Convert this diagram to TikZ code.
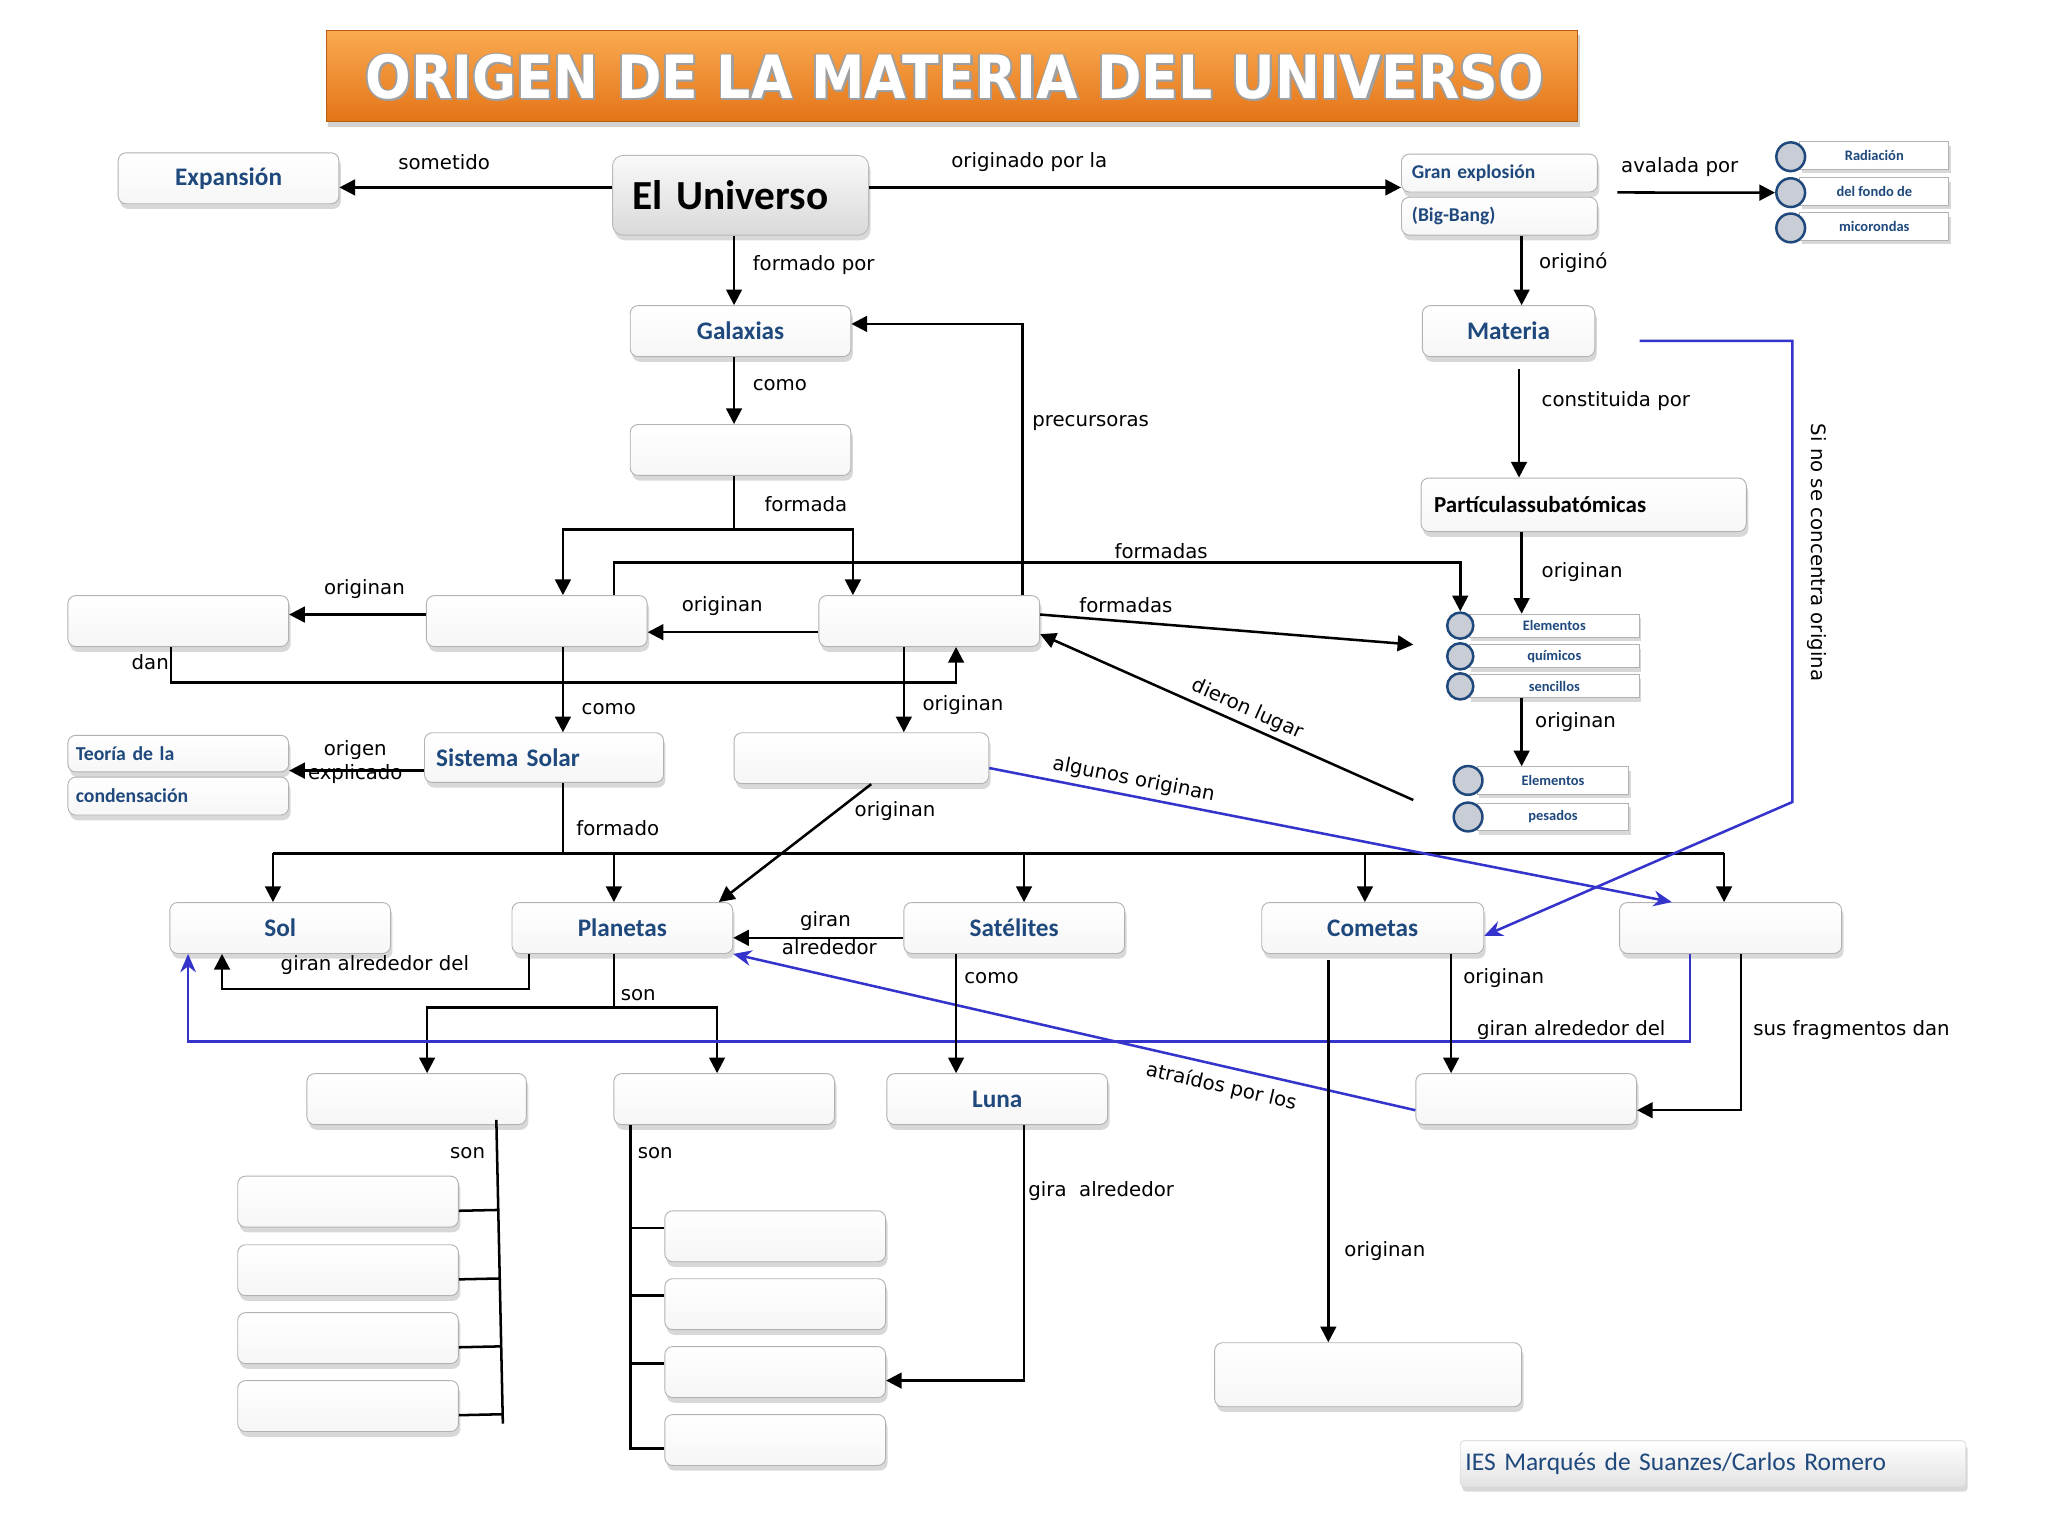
\documentclass[tikz,border=0pt]{standalone}
\usepackage{fontspec}
\usepackage{graphicx}
\setmainfont{DejaVu Sans}
\newfontfamily\calib{Carlito}
\usepackage{tikz}
\usetikzlibrary{positioning,arrows.meta,shadows,calc}
\definecolor{navy}{RGB}{31,73,125}
\definecolor{linkblue}{RGB}{52,52,204}
\definecolor{orgtop}{RGB}{250,170,80}
\definecolor{orgbot}{RGB}{228,116,24}
\definecolor{dotgray}{RGB}{200,205,214}
\newcommand{\ttltext}{\scalebox{0.9}[1]{ORIGEN DE LA MATERIA DEL UNIVERSO}}

\begin{document}
\begin{tikzpicture}[x=0.2mm, y=-0.2mm,
  box/.style={draw=gray!60, rounded corners=1.2mm, top color=white, bottom color=gray!7,
              minimum width=33.8mm, minimum height=7.8mm, inner sep=0pt,
              font=\calib\bfseries\fontsize{11}{13}\selectfont, text=navy,
              drop shadow={opacity=0.3, shadow xshift=0.3mm, shadow yshift=-0.8mm}},
  lbox/.style={box, align=left, inner xsep=1.6mm},
  gbox/.style={lbox, minimum width=30mm, text width=26.8mm, minimum height=5.8mm,
               font=\calib\bfseries\fontsize{8.5}{10}\selectfont},
  tbox/.style={lbox, text width=31.4mm, inner xsep=1.2mm, minimum height=5.8mm,
               font=\calib\bfseries\fontsize{8.6}{10}\selectfont},
  unibox/.style={box, top color=gray!4, bottom color=gray!30, draw=gray!55, rounded corners=1.6mm,
                 minimum width=39.2mm, minimum height=12.2mm, align=left, text width=33.2mm,
                 inner xsep=3mm, text=black, font=\calib\bfseries\fontsize{18}{20}\selectfont},
  item/.style={draw=gray!60, fill=white, inner sep=0pt,
               font=\calib\bfseries\fontsize{6.3}{7}\selectfont, text=navy,
               drop shadow={opacity=0.3, shadow xshift=0.3mm, shadow yshift=-0.6mm}},
  dot/.style={circle, draw=navy, line width=1.1pt, fill=dotgray, minimum size=4.4mm, inner sep=0pt},
  titlebar/.style={draw=orgbot!80!black, top color=orgtop, bottom color=orgbot,
                   minimum width=191.6mm, minimum height=14mm,
                   drop shadow={opacity=0.35, shadow xshift=0.3mm, shadow yshift=-0.8mm}},
  ttl/.style={font=\bfseries\fontsize{26}{28}\selectfont, inner sep=0pt},
  lbl/.style={font=\fontsize{8.6}{10}\selectfont, inner sep=0pt},
  arr/.style={-{Triangle[length=2.4mm,width=2.4mm]}, line width=1.1pt},
  arrb/.style={-{Stealth[length=2.8mm,width=2.4mm]}, line width=1.1pt, linkblue},
  ln/.style={line width=1.1pt},
]
\fill[white, use as bounding box] (0,0) rectangle (1568,1176);

% title bar
\node[titlebar] (ttlbar) at (729,58) {};
\foreach \dx/\dy [count=\k] in {-1.3/0, 1.3/0, 0/-1.3, 0/1.3, 1.6/1.6}
  \node[ttl, text=gray!75] (ttlsh\k) at (731+\dx,59+\dy) {\ttltext};
\node[ttl, text=white] (ttltxt) at (731,59) {\ttltext};

% top row
\node[box] (expan) at (175,136.5) {Expansión};
\node[unibox] (univ) at (567,149.5) {El Universo};
\node[gbox] (gran) at (1148,132.5) {Gran explosión};
\node[gbox] (bigbang) at (1148,165.5) {(Big-Bang)};
\foreach \t/\y [count=\i] in {Radiación/119, del fondo de/146.5, micorondas/173.5}{
  \node[item, minimum width=22.8mm, minimum height=4.2mm] (rad\i) at (1435,\y) {\t};
  \node[dot] (radc\i) at (1371,\y+1) {};
}

% galaxias and materia
\node[box] (galax) at (567,253.5) {Galaxias};
\node[box] (e1) at (567,344.5) {};
\node[box, minimum width=26.4mm] (mater) at (1155,253.5) {Materia};
\node[lbox, minimum width=49.8mm, text width=45.8mm, inner xsep=2mm, minimum height=8.2mm,
      text=black, font=\calib\bfseries\fontsize{10}{12}\selectfont] (partic) at (1212.5,386.5) {Partículassubatómicas};
\foreach \t/\y [count=\i] in {Elementos/479, químicos/502.5, sencillos/525.5}{
  \node[item, minimum width=26mm, minimum height=3.5mm] (el\i) at (1190,\y) {\t};
  \node[dot, minimum size=4mm] (elc\i) at (1118,\y) {};
}
\foreach \t/\y [count=\i] in {Elementos/597.5, pesados/625.5}{
  \node[item, minimum width=23.2mm, minimum height=4.2mm] (ep\i) at (1189,\y) {\t};
  \node[dot] (epc\i) at (1124,\y) {};
}

% middle rows
\node[box] (e2) at (136.5,475.5) {};
\node[box] (e3) at (411,475.5) {};
\node[box] (e4) at (711.5,475.5) {};
\node[tbox, minimum height=5.6mm] (teoria) at (136.5,577) {Teoría de la};
\node[tbox] (conden) at (136.5,609.5) {condensación};
\node[lbox, minimum width=36.6mm, text width=33mm, inner xsep=1.8mm, minimum height=7.6mm] (sist) at (416.5,580) {Sistema Solar};
\node[box, minimum width=39mm] (e5) at (659.5,580.5) {};

% solar system members
\node[box] (sol) at (214.5,710.5) {Sol};
\node[box] (plan) at (476.5,710.5) {Planetas};
\node[box] (sat) at (776.5,710.5) {Satélites};
\node[box, minimum width=34mm] (comet) at (1051,710.5) {Cometas};
\node[box, minimum width=34mm] (e6) at (1325,710.5) {};
\node[box, minimum width=33.6mm] (e7) at (319,841.5) {};
\node[box] (e8) at (554.5,841.5) {};
\node[box] (luna) at (763.5,841.5) {Luna};
\node[box] (e9) at (1168.5,841.5) {};
\foreach \y [count=\i] in {920,972.5,1024.5,1076.5}
  \node[box] (l\i) at (266.5,\y) {};
\foreach \y [count=\i] in {946.5,998.5,1050.5,1102.5}
  \node[box] (m\i) at (593.5,\y) {};
\node[box, minimum width=47mm, minimum height=9.8mm] (ebot) at (1047.5,1052.5) {};

% footer
\node[box, top color=white, bottom color=gray!22, draw=gray!25, rounded corners=0.6mm,
      minimum width=77.4mm, minimum height=7mm, align=left, text width=75.8mm, inner xsep=0.8mm,
      font=\calib\fontsize{11.1}{13}\selectfont] (foot) at (1311.5,1120.5) {IES Marqués de Suanzes/Carlos Romero};

% connectors, top part
\draw[arr] ([yshift=1.2mm]univ.west) -- ([yshift=1.2mm]univ.west -| expan.east);
\draw[arr] ([yshift=1.2mm]univ.east) -- ([yshift=1.2mm]univ.east -| gran.west);
\draw[arr] ([xshift=-1mm]univ.south) -- ([xshift=-1mm]univ.south |- galax.north);
\draw[arr] ([xshift=3mm]gran.south east) -- (radc2.west);
\draw[arr] ([xshift=2mm]mater.north |- bigbang.south) -- ([xshift=2mm]mater.north);
\draw[arr] ([xshift=-1mm]galax.south) -- ([xshift=-1mm]galax.south |- e1.north);
\draw[ln] ([xshift=-1mm]e1.south) -- ++(0,41) coordinate (fj);
\draw[arr] (fj) -| ([xshift=4mm]e3.north);
\draw[arr] (fj) -| ([xshift=-11.7mm]e4.north);
\draw[arr] ([xshift=14.3mm]e4.north) |- ([yshift=1.1mm]galax.east);
\draw[arr] ([xshift=11.8mm]e3.north) -- ++(0,-25) -| (elc1.north);
\draw[arr] ([yshift=1mm]e4.east) -- ([xshift=-5mm,yshift=1.8mm]elc2.west);
\draw[arr] ([xshift=-6mm,yshift=-3mm]epc1.west) -- ([yshift=-2mm]e4.east);
\draw[arr] ([yshift=-1.7mm]e4.west) -- ([yshift=-1.7mm]e4.west -| e3.east);
\draw[arr] ([yshift=1mm]e3.west) -- ([yshift=1mm]e3.west -| e2.east);
\draw[arr] ([xshift=-1.1mm]e2.south) -- ++(0,27) -| ([xshift=4.1mm]e4.south);
\draw[arr] ([xshift=4mm]e3.south) -- ([xshift=4mm]e3.south |- sist.north);
\draw[arr] ([xshift=-3.9mm]e4.south) -- ([xshift=-3.9mm]e4.south |- e5.north);
\draw[arr] ([yshift=-2mm]sist.west) -- ([yshift=-2mm]sist.west -| teoria.east);

% materia side
\draw[arr] ([xshift=1.6mm,yshift=-1.8mm]mater.south) -- ([xshift=1.6mm]mater.south |- partic.north);
\draw[arr] ([xshift=-9.5mm]partic.south) -- ([xshift=-9.5mm]partic.south |- el1.north);
\draw[arr] ([xshift=-5mm]el3.south) -- ([xshift=-5mm]el3.south |- ep1.north);

% sistema solar bus
\draw[ln] ([xshift=2.9mm]sist.south) -- ++(0,54) coordinate (bus);
\draw[ln] ([xshift=-1.1mm]sol.north |- bus) -- ([xshift=-1mm]e6.north |- bus);
\foreach \n/\dx in {sol/-1.1,plan/-1.3,sat/1.5,comet/-1.2,e6/-1}
  \draw[arr] ([xshift=\dx mm]\n.north |- bus) -- ([xshift=\dx mm]\n.north);
\draw[arr] ([xshift=1.5mm]e5.south) -- ([xshift=-2.2mm]plan.north east);
\draw[arrb] ([yshift=-1.5mm]e5.east) -- ([xshift=-9mm]e6.north);
\draw[arrb] ([xshift=6.8mm,yshift=-1.5mm]mater.east) -- ++(117,0) -- ++(0,353) -- ([yshift=-1.2mm]comet.east);

% lower part
\draw[arr] ([yshift=-1.5mm]sat.west) -- ([yshift=-1.5mm]sat.west -| plan.east);
\draw[arr] ([xshift=-14.3mm]plan.south) -- ++(0,27) -| ([xshift=-8.9mm]sol.south);
\draw[ln] ([xshift=-1.3mm]plan.south) -- ++(0,41) coordinate (sj);
\draw[arr] (sj) -| ([xshift=1.6mm]e7.north);
\draw[arr] (sj) -| ([xshift=-1.1mm]e8.north);
\draw[arrb] ([xshift=-6.2mm]e6.south) -- ++(0,67) -| ([xshift=-14.1mm]sol.south);
\draw[arrb] ([yshift=-1.7mm]e9.west) -- (plan.south east);
\draw[arr] ([xshift=-8.9mm]sat.south) -- ([xshift=-8.9mm]sat.south |- luna.north);
\draw[arr] ([xshift=12mm]comet.south) -- ([xshift=12mm]comet.south |- e9.north);
\draw[arr] ([xshift=-6.8mm,yshift=-1mm]comet.south) -- ([xshift=-6.8mm]comet.south |- ebot.north);
\draw[arr] ([xshift=1.6mm]e6.south) |- ([yshift=-1.7mm]e9.east);
\draw[arr] ([xshift=4.1mm]luna.south) |- ([yshift=-1.3mm]m3.east);

% the two "son" columns
\coordinate (lstem0) at ([xshift=12.2mm,yshift=0.8mm]e7.south);
\coordinate (lstem1) at (385,1090);
\draw[ln] (lstem0) -- (lstem1);
\foreach \i in {1,...,4}
  \draw[ln] ([yshift=-1.4mm]l\i.east) -- ($(lstem0)!([yshift=-1.4mm]l\i.east)!(lstem1)$);
\coordinate (mstem) at ([xshift=2.6mm]e8.south west);
\draw[ln] (mstem) |- ([yshift=-1.3mm]m4.west);
\foreach \i in {1,2,3}
  \draw[ln] ([yshift=1.3mm]m\i.west) -- ([yshift=1.3mm]m\i.west -| mstem);

% link labels
\node[lbl] (t1) at (340,124) {sometido};
\node[lbl] (t2) at (788,124) {originado por la};
\node[lbl, anchor=west] (t3) at (576,203) {formado por};
\node[lbl] (t4) at (1286,128) {avalada por};
\node[lbl, anchor=west] (t5) at (1178,201) {originó};
\node[lbl, anchor=west] (t6) at (576,295) {como};
\node[lbl, anchor=west] (t7) at (585,386) {formada};
\node[lbl, anchor=west] (t8) at (790,324) {precursoras};
\node[lbl] (t9) at (889,422) {formadas};
\node[lbl] (t10) at (862,463) {formadas};
\node[lbl, rotate=-24] (t11) at (955,543) {dieron lugar};
\node[lbl] (t12) at (553,464) {originan};
\node[lbl] (t13) at (279,451) {originan};
\node[lbl] (t14) at (115,507) {dan};
\node[lbl, anchor=west] (t15) at (445,543) {como};
\node[lbl, anchor=west] (t16) at (706,540) {originan};
\node[lbl, anchor=west] (t17) at (1180,307) {constituida por};
\node[lbl, anchor=west] (t18) at (1180,438) {originan};
\node[lbl, anchor=west] (t19) at (1175,553) {originan};
\node[lbl] (t20) at (272,574) {origen};
\node[lbl] (t21) at (272,593) {explicado};
\node[lbl, anchor=west] (t22) at (441,634) {formado};
\node[lbl, anchor=west] (t23) at (654,621) {originan};
\node[lbl, rotate=-11] (t24) at (868,597) {algunos originan};
\node[lbl, rotate=-90] (t25) at (1391,423) {Si no se concentra origina};
\node[lbl] (t26) at (632,705) {giran};
\node[lbl] (t27) at (635,725) {alrededor};
\node[lbl] (t28) at (287,739) {giran alrededor del};
\node[lbl, anchor=west] (t29) at (475,762) {son};
\node[lbl] (t30) at (1203,789) {giran alrededor del};
\node[lbl, anchor=west] (t31) at (738,749) {como};
\node[lbl, anchor=west] (t32) at (1120,749) {originan};
\node[lbl, anchor=west] (t33) at (1342,789) {sus fragmentos dan};
\node[lbl, rotate=-12.7] (t34) at (935,832) {atraídos por los};
\node[lbl] (t35) at (358,883) {son};
\node[lbl, anchor=west] (t36) at (488,883) {son};
\node[lbl, anchor=west] (t37) at (787,912) {gira\ \ alrededor};
\node[lbl, anchor=west] (t38) at (1029,958) {originan};
\end{tikzpicture}
\end{document}
